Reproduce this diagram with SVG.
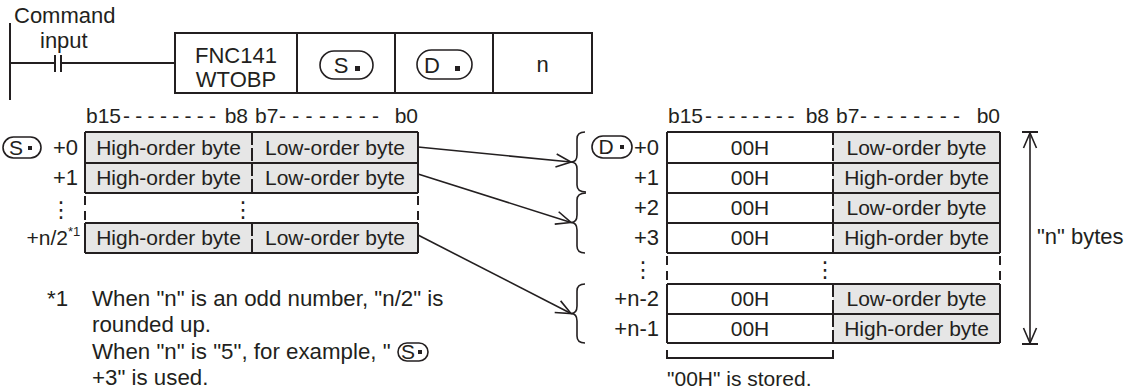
<svg xmlns="http://www.w3.org/2000/svg" width="1134" height="390" viewBox="0 0 1134 390">
<defs>
<marker id="ah" markerUnits="userSpaceOnUse" markerWidth="20" markerHeight="16" refX="16" refY="8" orient="auto-start-reverse" viewBox="0 0 20 16">
<path d="M1,1.5 L16,8 L1,14.5" fill="none" stroke="#231f20" stroke-width="1.6"/>
</marker>
</defs>
<style>
text{font-family:"Liberation Sans",Arial,sans-serif;fill:#231f20;font-size:21px}
.t22{font-size:22px}
.lb{font-size:22px}
.fn{font-size:22.3px}
.sm{font-size:13px}
.vd{font-family:"DejaVu Sans",sans-serif;font-size:22px}
.ln{stroke:#231f20;stroke-width:2;fill:none}
.gray{fill:#e6e6e6}
.dv{stroke:#231f20;stroke-width:2;stroke-dasharray:13 3;fill:none}
.edge{stroke:#231f20;stroke-width:2;stroke-dasharray:9 6;fill:none}
.c{text-anchor:middle}
.r{text-anchor:end}
.conn{stroke:#231f20;stroke-width:1.6;fill:none}
.oval{fill:#fff;stroke:#231f20;stroke-width:1.6}
.dot{fill:#231f20}
</style>

<g id="ladder">
<line x1="10" y1="23" x2="10" y2="100" class="ln"/>
<text x="14" y="23" class="t22">Command</text>
<text x="40" y="48" class="t22">input</text>
<line x1="10" y1="63" x2="55" y2="63" class="ln"/>
<line x1="55" y1="55" x2="55" y2="72" class="ln"/>
<line x1="61" y1="55" x2="61" y2="72" class="ln"/>
<line x1="61" y1="63" x2="175" y2="63" class="ln"/>
</g>

<g id="instruction">
<rect x="175" y="33" width="417" height="60" class="ln"/>
<line x1="297" y1="33" x2="297" y2="93" class="ln"/>
<line x1="395" y1="33" x2="395" y2="93" class="ln"/>
<line x1="493" y1="33" x2="493" y2="93" class="ln"/>
<text x="236" y="63" class="t22 c">FNC141</text>
<text x="236" y="87" class="t22 c">WTOBP</text>
<rect x="320" y="51" width="53" height="28" rx="14" class="oval"/>
<text x="341" y="73" class="t22 c">S</text>
<rect x="355" y="66" width="5" height="5" class="dot"/>
<rect x="417" y="50" width="55" height="29" rx="14.5" class="oval"/>
<text x="432" y="73" class="t22 c">D</text>
<rect x="455" y="66" width="5" height="5" class="dot"/>
<text x="542.5" y="72" class="t22 c">n</text>
</g>

<g id="source-table">
<rect x="85" y="132" width="333" height="61" class="gray"/>
<rect x="85" y="223" width="333" height="30" class="gray"/>
<path d="M85,132 H418 M85,163 H418 M85,193 H418 M85,223 H418 M85,253 H418 M85,132 V193 M418,132 V193 M85,223 V253 M418,223 V253" class="ln"/>
<path d="M85,196 V223 M418,196 V223" class="edge"/>
<path d="M252,132 V163 M252,163 V193 M252,223 V253" class="dv"/>
<text x="168.5" y="155" class="c">High-order byte</text>
<text x="335" y="155" class="c">Low-order byte</text>
<text x="168.5" y="185" class="c">High-order byte</text>
<text x="335" y="185" class="c">Low-order byte</text>
<text x="243" y="217" class="vd c">⋮</text>
<text x="168.5" y="245" class="c">High-order byte</text>
<text x="335" y="245" class="c">Low-order byte</text>
</g>

<g id="source-labels">
<rect x="3" y="137" width="38" height="21" rx="10.5" class="oval"/>
<text x="16" y="154.5" font-size="18" class="c">S</text>
<rect x="28" y="146" width="4" height="4" class="dot"/>
<text x="78" y="155" class="lb r">+0</text>
<text x="78" y="185" class="lb r">+1</text>
<text x="61" y="217" class="vd c">⋮</text>
<text x="68" y="245" class="r">+n/2</text>
<text x="68" y="236" class="sm">*1</text>
</g>

<g id="bit-header-left">
<text x="86" y="123">b15</text>
<text x="123" y="123" letter-spacing="5.3">--------</text>
<text x="248" y="123" class="r">b8</text>
<text x="255" y="123">b7</text>
<text x="279" y="123" letter-spacing="6.3">--------</text>
<text x="418" y="123" class="r">b0</text>
</g>

<g id="bit-header-right">
<text x="668" y="123">b15</text>
<text x="705" y="123" letter-spacing="4.8">--------</text>
<text x="829" y="123" class="r">b8</text>
<text x="836" y="123">b7</text>
<text x="860" y="123" letter-spacing="6.3">--------</text>
<text x="1000" y="123" class="r">b0</text>
</g>

<g id="dest-table">
<rect x="833" y="132" width="167" height="121" class="gray"/>
<rect x="833" y="284" width="167" height="59" class="gray"/>
<path d="M667,132 H1000 M667,163 H1000 M667,193 H1000 M667,223 H1000 M667,253 H1000 M667,284 H1000 M667,314 H1000 M667,343 H1000 M667,132 V253 M1000,132 V253 M667,284 V343 M1000,284 V343" class="ln"/>
<path d="M667,256 V284 M1000,256 V284" class="edge"/>
<path d="M833,132 V163 M833,163 V193 M833,193 V223 M833,223 V253 M833,284 V314 M833,314 V343" class="dv"/>
<text x="750" y="155" class="c">00H</text>
<text x="916.5" y="155" class="c">Low-order byte</text>
<text x="750" y="185" class="c">00H</text>
<text x="916.5" y="185" class="c">High-order byte</text>
<text x="750" y="215" class="c">00H</text>
<text x="916.5" y="215" class="c">Low-order byte</text>
<text x="750" y="245" class="c">00H</text>
<text x="916.5" y="245" class="c">High-order byte</text>
<text x="825" y="277" class="vd c">⋮</text>
<text x="750" y="306" class="c">00H</text>
<text x="916.5" y="306" class="c">Low-order byte</text>
<text x="750" y="336" class="c">00H</text>
<text x="916.5" y="336" class="c">High-order byte</text>
</g>

<g id="dest-labels">
<rect x="592" y="136" width="40" height="22" rx="11" class="oval"/>
<text x="606" y="154" font-size="19" class="c">D</text>
<rect x="620" y="145" width="4" height="4" class="dot"/>
<text x="659" y="155" class="lb r">+0</text>
<text x="659" y="185" class="lb r">+1</text>
<text x="659" y="215" class="lb r">+2</text>
<text x="659" y="245" class="lb r">+3</text>
<text x="643" y="277" class="vd c">⋮</text>
<text x="659" y="306" class="lb r">+n-2</text>
<text x="659" y="336" class="lb r">+n-1</text>
</g>

<g id="stored-note">
<path d="M667,350 V358 H833 V350" class="ln"/>
<text x="667" y="386">"00H" is stored.</text>
</g>

<g id="size-arrow">
<line x1="1030" y1="133" x2="1030" y2="343" class="conn" marker-start="url(#ah)" marker-end="url(#ah)"/>
<path d="M1022,132 H1038 M1022,344 H1038" class="ln"/>
<text x="1037" y="244" class="t22">"n" bytes</text>
</g>

<g id="connectors">
<path d="M585,132 Q577,132 577,139 V155 Q577,162 571,162 Q577,162 577,169 V185 Q577,192 586,192" class="conn"/>
<path d="M586,193 Q577,193 577,200 V215 Q577,222.5 571,222.5 Q577,222.5 577,230 V246 Q577,253 585,253" class="conn"/>
<path d="M585,284 Q577,284 577,291 V306 Q577,313.5 571,313.5 Q577,313.5 577,321 V336 Q577,343 585,343" class="conn"/>
<line x1="418" y1="147" x2="571" y2="162" class="conn" marker-end="url(#ah)"/>
<line x1="418" y1="174" x2="571" y2="222.5" class="conn" marker-end="url(#ah)"/>
<line x1="418" y1="235" x2="571" y2="313.5" class="conn" marker-end="url(#ah)"/>
</g>

<g id="footnote">
<text x="47" y="306" class="fn">*1</text>
<text x="92" y="306" class="fn">When "n" is an odd number, "n/2" is</text>
<text x="92" y="332" class="fn">rounded up.</text>
<text x="92" y="359" class="fn">When "n" is "5", for example, "</text>
<rect x="398" y="343" width="30" height="18" rx="9" class="oval"/>
<text x="408" y="359" font-size="16" class="c">S</text>
<rect x="418" y="350" width="4" height="4" class="dot"/>
<text x="92" y="385" class="fn">+3" is used.</text>
</g>
</svg>
